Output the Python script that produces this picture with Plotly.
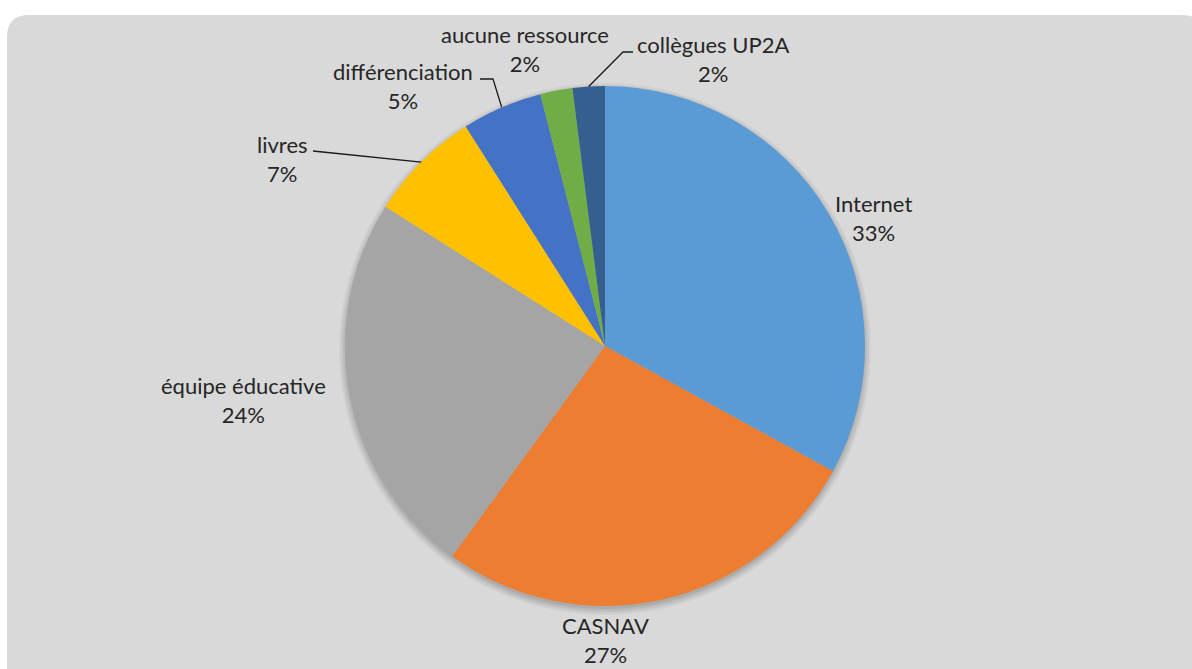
import math
import plotly.graph_objects as go

labels = ["Internet", "CASNAV", "équipe éducative", "livres", "différenciation",
          "aucune ressource", "collègues UP2A"]
values = [33, 27, 24, 7, 5, 2, 2]
colors = ["#5b9bd5", "#ed7d31", "#a5a5a5", "#ffc000", "#4472c4", "#70ad47", "#345f8e"]

# label block centres (pixels) and leader-line elbows (pixels) as layout styling
label_pos = [(873, 218), (605, 640), (243, 400), (282, 159), (403, 86), (525, 49), (713, 59)]
leaders = {3: [(313, 151)], 4: [(493, 79), (480, 79)], 6: [(623, 52), (633, 52)]}

W, H = 1192, 669
cx, cy, r = 605, 346, 260
FONT = dict(family="Lato, Noto Sans, sans-serif", size=22, color="#262626")


def px(x):
    return x / W


def py(y):
    return 1 - y / H


fig = go.Figure()
fig.add_trace(go.Pie(
    labels=labels, values=values, sort=False, direction="clockwise", rotation=0,
    marker=dict(colors=colors, line=dict(width=0)),
    textinfo="none", automargin=False,
    showlegend=False, hoverinfo="label+percent",
    domain=dict(x=[px(cx - r), px(cx + r)], y=[py(cy + r), py(cy - r)]),
))

shapes = []
# rounded grey chart area
x0, y0, x1, y1, rad = px(7), py(15), 1.01, -0.02, 22
rx, ry = rad / W, rad / H
path = (f"M {x0},{y1} L {x0},{y0-ry} Q {x0},{y0} {x0+rx},{y0} "
        f"L {x1-rx},{y0} Q {x1},{y0} {x1},{y0-ry} L {x1},{y1} Z")
shapes.append(dict(type="path", path=path, xref="paper", yref="paper",
                   fillcolor="#d9d9d9", line=dict(width=0), layer="below"))
# soft shadow under the pie
for d, a in [(7, 0.04), (5, 0.05), (3, 0.06), (1, 0.07)]:
    shapes.append(dict(type="circle", xref="paper", yref="paper",
                       x0=px(cx - r - d + 1), x1=px(cx + r + d - 1),
                       y0=py(cy + r + d + 2), y1=py(cy - r - d + 4),
                       fillcolor=f"rgba(0,0,0,{a})", line=dict(width=0), layer="below"))

total = sum(values)
annotations = []
cum = 0
for i, (lab, v) in enumerate(zip(labels, values)):
    mid = (cum + v / 2) / total * 2 * math.pi
    cum += v
    pct = round(100 * v / total)
    lx, ly = label_pos[i]
    annotations.append(dict(x=px(lx), y=py(ly), xref="paper", yref="paper",
                            xanchor="center", yanchor="middle",
                            text=f"{lab}<br>{pct}%", showarrow=False,
                            font=FONT, align="center"))
    if i in leaders:
        ax, ay = cx + r * math.sin(mid), cy - r * math.cos(mid)
        pts = [(ax, ay)] + leaders[i]
        p = "M " + " L ".join(f"{px(a)},{py(b)}" for a, b in pts)
        shapes.append(dict(type="path", path=p, xref="paper", yref="paper",
                           line=dict(color="#1a1a1a", width=1.3)))

fig.update_layout(
    width=W, height=H, margin=dict(l=0, r=0, t=0, b=0),
    paper_bgcolor="white", shapes=shapes, annotations=annotations,
)
fig.write_html("out.html", config={"displayModeBar": False},
               post_script="document.body.style.margin='0';")
